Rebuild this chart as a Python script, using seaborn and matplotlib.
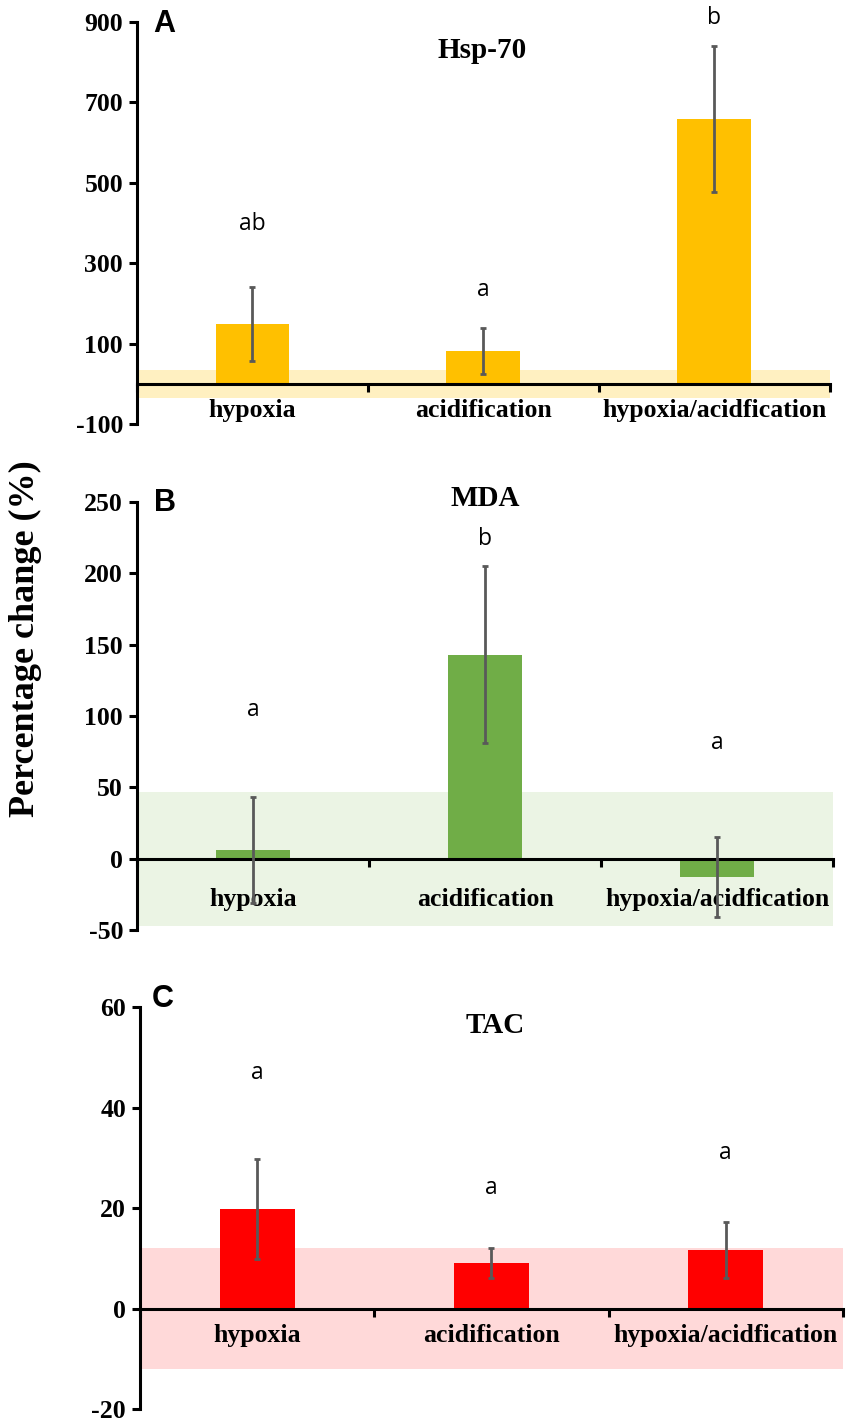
import numpy as np
import pandas as pd
import matplotlib
matplotlib.use("Agg")
import matplotlib.pyplot as plt
import seaborn as sns

# ── Dados ───────────────────────────────────────────────────────────────────

CATEGORIES = ["hypoxia", "acidification", "hypoxia/acidfication"]

HSP_MEAN = [148, 82, 659]
HSP_ERR = [92, 57, 181]
HSP_LETTERS = ["ab", "a", "b"]
HSP_LETTER_Y = [398, 234, 910]
HSP_BAND = 35

MDA_MEAN = [6, 143, -13]
MDA_ERR = [37, 62, 28]
MDA_LETTERS = ["a", "b", "a"]
MDA_LETTER_Y = [104, 224, 81]
MDA_BAND = 47

TAC_MEAN = [19.8, 9.1, 11.6]
TAC_ERR = [9.9, 3.0, 5.6]
TAC_LETTERS = ["a", "a", "a"]
TAC_LETTER_Y = [46.8, 23.9, 31]
TAC_BAND = 12

sns.set_theme(style="white")
plt.rcParams["font.family"] = ["Liberation Serif", "DejaVu Serif"]
plt.rcParams.update({
    "text.color": "black",
    "axes.labelcolor": "black",
    "xtick.color": "black",
    "ytick.color": "black",
})


def draw_panel(ax, title, tag, means, errs, letters, letter_y, band,
               bar_color, band_color, ylim, yticks, label_pad, title_pos, tag_pos):
    df = pd.DataFrame({"cat": CATEGORIES, "val": means})
    ax.axhspan(-band, band, color=band_color, zorder=0, lw=0)
    sns.barplot(data=df, x="cat", y="val", color=bar_color, width=0.32,
                saturation=1, errorbar=None, linewidth=0, edgecolor="none",
                ax=ax, zorder=2)
    ax.errorbar(np.arange(len(means)), means, yerr=errs, fmt="none",
                ecolor="#595959", elinewidth=2, capsize=2.5, capthick=2, zorder=3)
    for i, (lt, ly) in enumerate(zip(letters, letter_y)):
        ax.text(i, ly, lt, ha="center", va="center", fontsize=16.5,
                family=["Open Sans", "DejaVu Sans"])

    ax.set_xlim(-0.5, 2.5)
    ax.set_ylim(*ylim)
    ax.set_yticks(yticks)
    ax.set_yticklabels([str(t) for t in yticks], fontsize=18.5, fontweight="bold")
    ax.set_xlabel("")
    ax.set_ylabel("")

    # eixo x em zero, marcas entre categorias
    ax.spines["bottom"].set_position(("data", 0))
    for s in ["top", "right"]:
        ax.spines[s].set_visible(False)
    for s in ["left", "bottom"]:
        ax.spines[s].set_linewidth(2.2)
        ax.spines[s].set_color("black")
    ax.set_xticks([-0.5, 0.5, 1.5, 2.5])
    ax.set_xticklabels([])
    ax.set_xticks([0, 1, 2], minor=True)
    ax.set_xticklabels(CATEGORIES, minor=True, fontsize=18.5, fontweight="bold")
    ax.tick_params(axis="x", which="major", direction="out", length=6, width=2.2,
                   bottom=True, color="black")
    ax.tick_params(axis="x", which="minor", length=0, pad=label_pad)
    ax.tick_params(axis="y", direction="out", length=6, width=2.2, left=True,
                   color="black", pad=4)

    ax.text(title_pos[0], title_pos[1], title, transform=ax.transAxes,
            ha="center", va="center", fontsize=21, fontweight="bold")
    ax.text(tag_pos[0], tag_pos[1], tag, transform=ax.transAxes, ha="center",
            va="center", fontsize=22, fontweight="bold",
            family=["Liberation Sans", "DejaVu Sans"])


fig = plt.figure(figsize=(8.51, 14.23), dpi=100)
ax_a = fig.add_axes([0.161, 0.702, 0.814, 0.2825])
ax_b = fig.add_axes([0.161, 0.3465, 0.818, 0.3008])
ax_c = fig.add_axes([0.1645, 0.0098, 0.826, 0.2825])

draw_panel(ax_a, "Hsp-70", "A", HSP_MEAN, HSP_ERR, HSP_LETTERS, HSP_LETTER_Y,
           HSP_BAND, "#FFC000", "#FFF0C1", (-100, 900),
           [-100, 100, 300, 500, 700, 900], 11, (0.498, 0.93), (0.039, 0.995))
draw_panel(ax_b, "MDA", "B", MDA_MEAN, MDA_ERR, MDA_LETTERS, MDA_LETTER_Y,
           MDA_BAND, "#70AD47", "#EBF4E4", (-50, 250),
           [-50, 0, 50, 100, 150, 200, 250], 21, (0.5, 1.007), (0.04, 0.998))
draw_panel(ax_c, "TAC", "C", TAC_MEAN, TAC_ERR, TAC_LETTERS, TAC_LETTER_Y,
           TAC_BAND, "#FF0000", "#FFD9D9", (-20, 60),
           [-20, 0, 20, 40, 60], 11, (0.505, 0.955), (0.033, 1.02))

fig.text(0.03, 1 - 639 / 1423, "Percentage change (%)", rotation=90,
         ha="center", va="center", fontsize=26, fontweight="bold")

fig.savefig("out.png", dpi=100)
